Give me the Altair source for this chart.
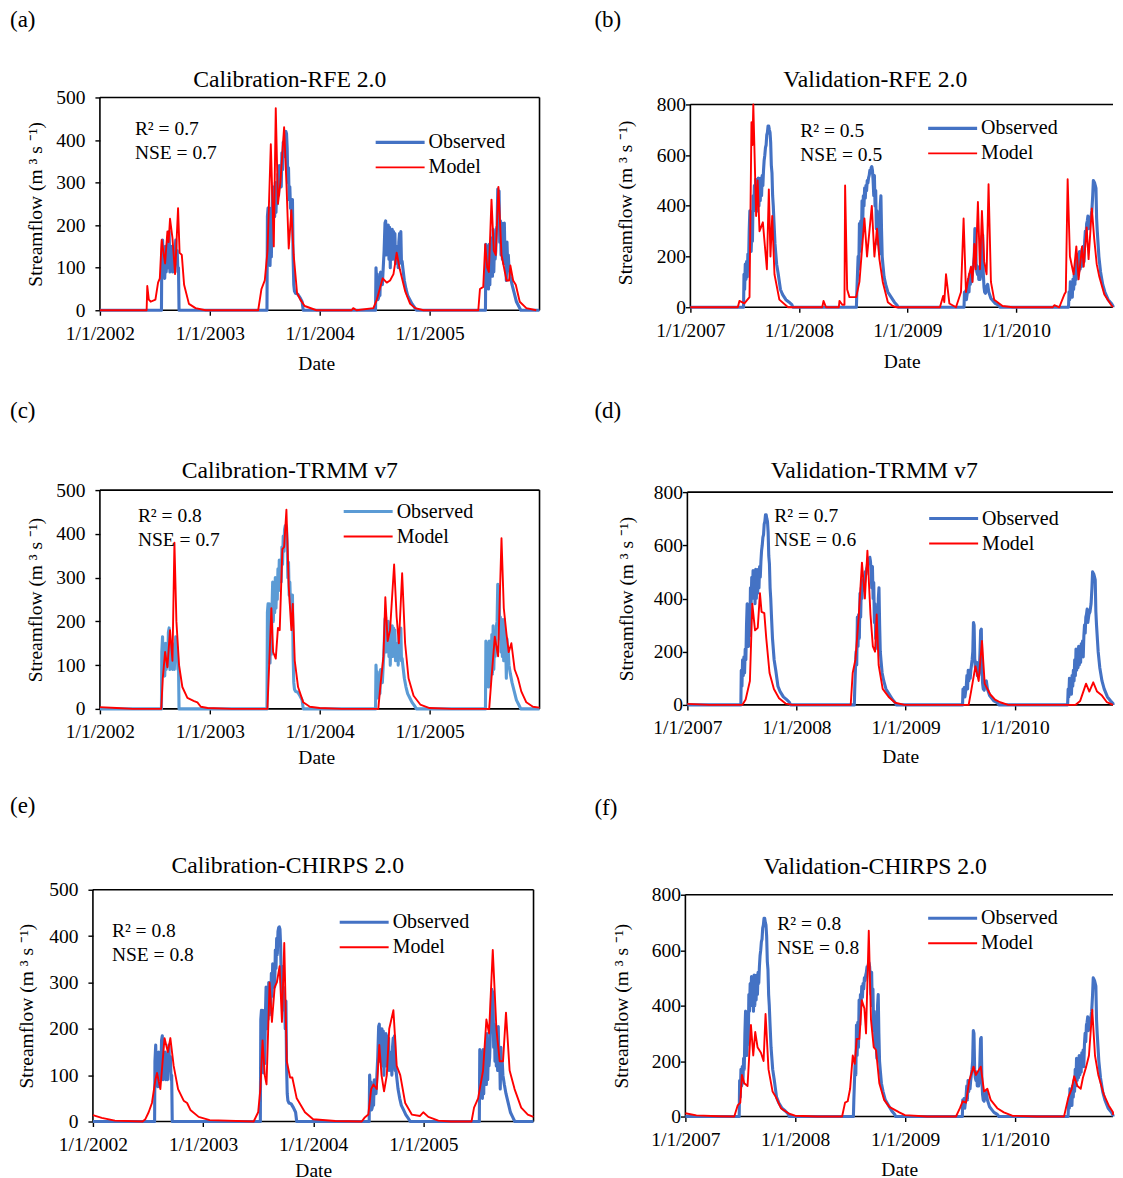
import altair as alt
import pandas as pd

FONT = "Liberation Serif"
BLUE = "#4472C4"
LIGHT = "#5B9BD5"
RED = "#FF0000"

# (fraction of the year, streamflow)
OBS_CAL_2002 = [(0, 0), (.560, 0), (.563, 130), (.570, 165), (.577, 80), (.583, 130), (.590, 75), (.597, 150), (.603, 90), (.610, 120), (.617, 100), (.623, 175), (.630, 185), (.637, 90), (.643, 140), (.650, 100), (.657, 150), (.663, 90), (.670, 130), (.677, 90), (.683, 135), (.690, 165), (.697, 110), (.703, 140), (.710, 90), (.715, 100), (.720, 0)]
OBS_CAL_2003 = [(.520, 0), (.524, 220), (.530, 240), (.536, 130), (.542, 240), (.548, 105), (.554, 180), (.560, 125), (.566, 230), (.572, 290), (.578, 200), (.584, 285), (.590, 220), (.596, 300), (.602, 230), (.608, 280), (.614, 250), (.620, 320), (.626, 270), (.632, 340), (.638, 300), (.644, 330), (.650, 290), (.656, 370), (.662, 330), (.668, 395), (.674, 360), (.680, 410), (.686, 418), (.692, 420), (.698, 415), (.704, 380), (.710, 300), (.716, 335), (.722, 260), (.728, 290), (.734, 240), (.740, 260), (.746, 200), (.752, 260), (.758, 120), (.764, 60), (.770, 45), (.780, 40), (.800, 38), (.820, 30), (.840, 20), (.850, 0)]
OBS_CAL_2004 = [(.508, 0), (.512, 100), (.518, 70), (.524, 85), (.530, 25), (.536, 30), (.542, 45), (.548, 35), (.554, 90), (.560, 60), (.570, 60), (.578, 100), (.586, 140), (.594, 205), (.600, 210), (.606, 130), (.612, 200), (.618, 145), (.624, 200), (.630, 120), (.636, 195), (.642, 100), (.648, 180), (.654, 130), (.660, 190), (.666, 120), (.672, 185), (.678, 140), (.684, 180), (.690, 110), (.696, 150), (.702, 110), (.708, 140), (.714, 100), (.720, 160), (.726, 180), (.732, 130), (.738, 185), (.744, 110), (.750, 115), (.756, 100), (.770, 70), (.785, 50), (.800, 35), (.820, 25), (.840, 15), (.860, 8), (.880, 0)]
OBS_CAL_2005 = [(.508, 0), (.512, 155), (.518, 120), (.524, 60), (.530, 150), (.536, 50), (.542, 155), (.548, 60), (.554, 150), (.560, 90), (.566, 170), (.572, 80), (.578, 190), (.584, 90), (.590, 150), (.596, 120), (.602, 140), (.608, 190), (.614, 200), (.620, 285), (.626, 270), (.632, 280), (.638, 160), (.644, 210), (.650, 130), (.656, 205), (.662, 120), (.668, 200), (.674, 110), (.680, 205), (.686, 120), (.692, 150), (.698, 70), (.704, 160), (.710, 110), (.716, 130), (.722, 100), (.735, 80), (.750, 60), (.770, 40), (.790, 20), (.810, 10), (.830, 0), (.999, 0)]

OBS_VAL_2007 = [(0, 0), (.490, 0), (.494, 130), (.500, 70), (.506, 170), (.512, 110), (.518, 180), (.524, 120), (.530, 210), (.536, 170), (.542, 300), (.548, 380), (.554, 370), (.560, 220), (.566, 300), (.572, 260), (.578, 440), (.584, 380), (.590, 480), (.596, 400), (.602, 505), (.608, 420), (.614, 500), (.620, 380), (.626, 510), (.632, 400), (.638, 500), (.644, 420), (.650, 510), (.656, 440), (.662, 520), (.668, 480), (.674, 540), (.680, 580), (.686, 600), (.692, 630), (.698, 640), (.704, 680), (.710, 690), (.716, 715), (.722, 715), (.728, 700), (.734, 690), (.740, 650), (.746, 560), (.752, 530), (.758, 440), (.764, 400), (.770, 340), (.780, 250), (.795, 170), (.810, 130), (.830, 70), (.850, 50), (.880, 30), (.910, 20), (.935, 10), (.945, 0)]
OBS_VAL_2008 = [(.530, 0), (.534, 60), (.540, 130), (.546, 200), (.552, 150), (.558, 330), (.564, 220), (.570, 340), (.576, 250), (.582, 420), (.588, 330), (.594, 440), (.600, 400), (.606, 470), (.612, 430), (.618, 480), (.624, 460), (.630, 500), (.636, 490), (.642, 510), (.648, 520), (.654, 540), (.660, 530), (.666, 550), (.672, 555), (.678, 540), (.684, 500), (.690, 440), (.696, 520), (.702, 400), (.708, 460), (.714, 310), (.720, 380), (.726, 250), (.732, 300), (.738, 260), (.744, 210), (.750, 400), (.756, 440), (.762, 300), (.768, 200), (.774, 170), (.785, 120), (.800, 90), (.820, 60), (.850, 40), (.880, 20), (.905, 8), (.915, 0)]
OBS_VAL_2009 = [(.522, 0), (.526, 60), (.532, 30), (.538, 65), (.544, 30), (.550, 50), (.556, 70), (.562, 110), (.568, 60), (.574, 130), (.580, 90), (.586, 130), (.592, 100), (.598, 130), (.604, 150), (.610, 170), (.616, 200), (.622, 310), (.628, 300), (.634, 170), (.640, 140), (.646, 130), (.652, 160), (.658, 110), (.664, 130), (.670, 110), (.676, 130), (.682, 200), (.688, 280), (.694, 285), (.700, 130), (.706, 80), (.712, 60), (.720, 55), (.730, 80), (.740, 90), (.750, 60), (.770, 35), (.790, 25), (.810, 15), (.840, 8), (.855, 0)]
OBS_VAL_2010 = [(.485, 0), (.490, 60), (.496, 30), (.502, 100), (.508, 50), (.514, 60), (.520, 40), (.526, 110), (.532, 70), (.538, 130), (.544, 90), (.550, 170), (.556, 110), (.562, 210), (.568, 130), (.574, 200), (.580, 140), (.586, 220), (.592, 150), (.598, 215), (.604, 160), (.610, 230), (.616, 190), (.622, 240), (.628, 180), (.634, 260), (.640, 300), (.646, 270), (.652, 330), (.658, 340), (.664, 360), (.670, 310), (.680, 340), (.690, 350), (.700, 380), (.708, 440), (.714, 500), (.720, 495), (.726, 490), (.732, 480), (.738, 470), (.744, 350), (.750, 300), (.765, 200), (.780, 140), (.800, 90), (.820, 60), (.850, 30), (.880, 15), (.905, 5), (.915, 0), (.999, 0)]

RFE_CAL_2002 = [(0, 0), (.425, 0), (.431, 57), (.445, 25), (.462, 20), (.505, 25), (.529, 65), (.545, 75), (.562, 165), (.593, 110), (.614, 185), (.625, 160), (.638, 215), (.660, 170), (.684, 85), (.711, 240), (.725, 135), (.745, 130), (.766, 60), (.810, 15), (.870, 5), (.960, 0)]
RFE_CAL_2003 = [(.44, 0), (.47, 50), (.50, 70), (.525, 140), (.555, 390), (.582, 150), (.60, 475), (.62, 250), (.642, 300), (.667, 395), (.676, 430), (.697, 300), (.718, 145), (.742, 235), (.763, 130), (.794, 40), (.824, 25), (.863, 10), (.97, 0)]
RFE_CAL_2004 = [(.29, 0), (.305, 5), (.335, 0), (.488, 5), (.52, 25), (.573, 75), (.61, 65), (.64, 70), (.671, 85), (.686, 110), (.70, 135), (.73, 95), (.777, 45), (.823, 15), (.869, 5), (.945, 0)]
RFE_CAL_2005 = [(.443, 0), (.458, 50), (.488, 55), (.506, 155), (.524, 100), (.539, 90), (.563, 260), (.584, 140), (.602, 130), (.626, 290), (.654, 130), (.70, 70), (.723, 70), (.735, 105), (.76, 70), (.784, 60), (.82, 20), (.88, 5), (.97, 0)]

RFE_VAL_2007 = [(0, 0), (.437, 0), (.452, 25), (.498, 15), (.545, 40), (.563, 730), (.572, 640), (.58, 800), (.606, 360), (.62, 500), (.637, 300), (.668, 335), (.705, 150), (.723, 465), (.738, 200), (.754, 360), (.775, 130), (.82, 30), (.90, 0)]
RFE_VAL_2008 = [(.215, 0), (.227, 25), (.25, 0), (.368, 0), (.374, 25), (.40, 10), (.42, 10), (.426, 480), (.445, 70), (.466, 40), (.528, 40), (.558, 100), (.604, 350), (.628, 200), (.672, 400), (.696, 200), (.72, 310), (.742, 190), (.773, 100), (.82, 20), (.865, 5), (.90, 0)]
RFE_VAL_2009 = [(.30, 0), (.33, 45), (.34, 20), (.356, 130), (.387, 15), (.448, 0), (.494, 60), (.518, 350), (.54, 60), (.564, 120), (.586, 160), (.60, 100), (.617, 250), (.629, 150), (.65, 415), (.669, 150), (.687, 380), (.708, 180), (.73, 130), (.748, 485), (.77, 100), (.80, 30), (.877, 5), (.97, 0)]
RFE_VAL_2010 = [(.34, 0), (.354, 8), (.40, 0), (.446, 50), (.46, 60), (.477, 505), (.498, 200), (.532, 130), (.557, 240), (.578, 110), (.61, 240), (.625, 160), (.652, 315), (.67, 190), (.70, 390), (.722, 270), (.745, 170), (.769, 120), (.815, 50), (.877, 10), (.95, 0), (.999, 0)]

TRMM_CAL_2002 = [(0, 4), (.15, 2), (.30, 0), (.558, 0), (.572, 70), (.593, 130), (.614, 95), (.638, 180), (.66, 110), (.678, 380), (.696, 200), (.72, 100), (.75, 50), (.796, 25), (.857, 18), (.887, 15), (.918, 5), (.98, 2)]
TRMM_CAL_2003 = [(.20, 0), (.524, 0), (.54, 100), (.56, 230), (.576, 130), (.60, 115), (.62, 185), (.636, 180), (.66, 365), (.676, 370), (.697, 455), (.718, 280), (.742, 180), (.755, 240), (.773, 110), (.803, 50), (.85, 15), (.91, 5), (.999, 2)]
TRMM_CAL_2004 = [(.20, 0), (.533, 0), (.555, 60), (.58, 120), (.597, 255), (.618, 155), (.64, 180), (.677, 330), (.70, 210), (.72, 150), (.75, 310), (.777, 150), (.808, 70), (.854, 30), (.915, 10), (.999, 2)]
TRMM_CAL_2005 = [(.20, 0), (.542, 0), (.563, 70), (.593, 165), (.623, 120), (.654, 390), (.675, 230), (.70, 170), (.72, 130), (.744, 150), (.774, 90), (.804, 70), (.834, 40), (.88, 15), (.94, 5), (.999, 3)]

TRMM_VAL_2007 = [(0, 4), (.2, 0), (.503, 0), (.534, 20), (.573, 90), (.595, 380), (.62, 280), (.645, 290), (.665, 420), (.68, 350), (.705, 345), (.723, 250), (.753, 120), (.793, 60), (.84, 25), (.90, 5), (.96, 0)]
TRMM_VAL_2008 = [(.497, 0), (.515, 120), (.54, 170), (.57, 330), (.60, 535), (.627, 400), (.65, 580), (.678, 340), (.70, 220), (.72, 200), (.735, 340), (.753, 150), (.79, 60), (.845, 30), (.905, 8), (.99, 0)]
TRMM_VAL_2009 = [(.578, 0), (.60, 50), (.64, 145), (.67, 90), (.70, 240), (.725, 80), (.775, 40), (.82, 20), (.866, 10), (.94, 0)]
TRMM_VAL_2010 = [(.556, 0), (.60, 15), (.654, 80), (.684, 50), (.72, 85), (.755, 50), (.80, 35), (.845, 10), (.92, 0), (.999, 0)]

CHIRPS_CAL_2002 = [(0, 14), (.08, 8), (.2, 2), (.45, 0), (.476, 5), (.506, 20), (.536, 40), (.567, 90), (.582, 105), (.612, 70), (.65, 180), (.68, 150), (.703, 180), (.733, 120), (.773, 70), (.824, 45), (.855, 40), (.885, 25), (.96, 10)]
CHIRPS_CAL_2003 = [(.06, 3), (.459, 0), (.50, 20), (.52, 70), (.54, 175), (.56, 100), (.576, 80), (.604, 300), (.625, 215), (.65, 290), (.67, 300), (.695, 335), (.716, 215), (.737, 385), (.76, 130), (.79, 95), (.81, 95), (.85, 50), (.925, 20), (.999, 5)]
CHIRPS_CAL_2004 = [(.2, 1), (.44, 0), (.465, 8), (.50, 15), (.526, 70), (.547, 80), (.577, 70), (.60, 165), (.62, 100), (.643, 65), (.668, 100), (.69, 200), (.728, 240), (.758, 120), (.79, 100), (.835, 40), (.895, 15), (.97, 12), (.999, 20)]
CHIRPS_CAL_2005 = [(.045, 10), (.136, 2), (.25, 0), (.437, 0), (.46, 30), (.497, 50), (.527, 90), (.542, 110), (.572, 220), (.596, 190), (.63, 370), (.663, 200), (.693, 130), (.723, 130), (.75, 235), (.783, 110), (.828, 70), (.888, 30), (.948, 15), (.999, 10)]

CHIRPS_VAL_2007 = [(0, 12), (.1, 4), (.3, 1), (.445, 0), (.476, 40), (.50, 50), (.515, 150), (.536, 120), (.566, 110), (.597, 330), (.618, 220), (.636, 305), (.657, 250), (.688, 230), (.712, 200), (.73, 370), (.757, 170), (.794, 90), (.824, 70), (.87, 30), (.945, 10), (.999, 3)]
CHIRPS_VAL_2008 = [(.2, 0), (.427, 0), (.454, 50), (.478, 55), (.50, 100), (.524, 220), (.542, 190), (.56, 280), (.585, 280), (.606, 420), (.63, 390), (.645, 300), (.67, 670), (.69, 350), (.715, 250), (.736, 240), (.766, 120), (.81, 60), (.857, 35), (.948, 15), (.999, 5)]
CHIRPS_VAL_2009 = [(.2, 0), (.464, 0), (.50, 30), (.525, 55), (.555, 50), (.585, 130), (.624, 180), (.645, 150), (.69, 180), (.72, 90), (.75, 100), (.78, 60), (.84, 30), (.90, 15), (.976, 3)]
CHIRPS_VAL_2010 = [(.2, 0), (.448, 0), (.488, 70), (.518, 100), (.54, 145), (.57, 110), (.60, 100), (.62, 140), (.65, 180), (.675, 220), (.705, 385), (.73, 220), (.76, 150), (.81, 80), (.855, 40), (.915, 15), (.97, 8), (.999, 10)]

OBS_CAL = [OBS_CAL_2002, OBS_CAL_2003, OBS_CAL_2004, OBS_CAL_2005]
OBS_VAL = [OBS_VAL_2007, OBS_VAL_2008, OBS_VAL_2009, OBS_VAL_2010]

# span < 4: the reference is cropped just before the last year ends in the right-hand panels.
# padx / pady: blank strip of the view left of / above the frame (the grid aligns
# view origins in its first column and first row, the panels' frames are not aligned).
PANELS = [
    dict(tag="(a)", title="Calibration-RFE 2.0", start=2002, span=4, ymax=500, w=440, h=213, padx=7, pady=0, obs=OBS_CAL, col=BLUE,
         model=[RFE_CAL_2002, RFE_CAL_2003, RFE_CAL_2004, RFE_CAL_2005], r2="R² = 0.7", nse="NSE = 0.7",
         tagx=-83, tagy=-78, tcx=197, tcy=-17.5, tx=42, ty=32, lx=281, ly=32.5, lp=10, tp=10, xtp=12),
    dict(tag="(b)", title="Validation-RFE 2.0", start=2007, span=3.895, ymax=800, w=423, h=203, padx=0, pady=7, obs=OBS_VAL, col=BLUE,
         model=[RFE_VAL_2007, RFE_VAL_2008, RFE_VAL_2009, RFE_VAL_2010], r2="R² = 0.5", nse="NSE = 0.5",
         tagx=-96, tagy=-78, tcx=185, tcy=-17.5, tx=110, ty=34, lx=236, ly=18.5, lp=0, tp=21, xtp=12.5),
    dict(tag="(c)", title="Calibration-TRMM v7", start=2002, span=4, ymax=500, w=440, h=219, padx=7, pady=0, obs=OBS_CAL, col=LIGHT,
         model=[TRMM_CAL_2002, TRMM_CAL_2003, TRMM_CAL_2004, TRMM_CAL_2005], r2="R² = 0.8", nse="NSE = 0.7",
         tagx=-83, tagy=-79, tcx=197, tcy=-19, tx=45, ty=26, lx=249, ly=9, lp=10, tp=10, xtp=7.5),
    dict(tag="(d)", title="Validation-TRMM v7", start=2007, span=3.901, ymax=800, w=426, h=213, padx=0, pady=0, obs=OBS_VAL, col=BLUE,
         model=[TRMM_VAL_2007, TRMM_VAL_2008, TRMM_VAL_2009, TRMM_VAL_2010], r2="R² = 0.7", nse="NSE = 0.6",
         tagx=-93, tagy=-81, tcx=187, tcy=-21, tx=87, ty=23.5, lx=240, ly=14, lp=0, tp=17, xtp=10),
    dict(tag="(e)", title="Calibration-CHIRPS 2.0", start=2002, span=4, ymax=500, w=441, h=232, padx=0, pady=0, obs=OBS_CAL, col=BLUE,
         model=[CHIRPS_CAL_2002, CHIRPS_CAL_2003, CHIRPS_CAL_2004, CHIRPS_CAL_2005], r2="R² = 0.8", nse="NSE = 0.8",
         tagx=-83, tagy=-84, tcx=195, tcy=-24, tx=19, ty=41.5, lx=245, ly=20, lp=10, tp=12, xtp=7.5),
    dict(tag="(f)", title="Validation-CHIRPS 2.0", start=2007, span=3.894, ymax=800, w=428, h=222, padx=0, pady=0, obs=OBS_VAL, col=BLUE,
         model=[CHIRPS_VAL_2007, CHIRPS_VAL_2008, CHIRPS_VAL_2009, CHIRPS_VAL_2010], r2="R² = 0.8", nse="NSE = 0.8",
         tagx=-91, tagy=-87, tcx=190, tcy=-28, tx=92, ty=29, lx=241, ly=11, lp=0, tp=20, xtp=11.5),
]


def frame(seasons, start, span, name):
    rows = []
    for i, season in enumerate(seasons):
        rows.extend({"t": min(start + i + f, start + span), "q": v, "series": name} for f, v in season)
    return pd.DataFrame(rows)


def panel(p):
    start, end, ymax = p["start"], p["start"] + p["span"], p["ymax"]
    years = list(range(start, start + 4))
    xscale = alt.Scale(domain=[start - p["padx"] * p["span"] / p["w"], end], nice=False, zero=False)
    yscale = alt.Scale(domain=[0, ymax * (p["h"] + p["pady"]) / p["h"]], nice=False)
    xaxis = alt.Axis(values=years, labelExpr="'1/1/' + datum.value", title="Date", grid=False, domain=False,
                     tickSize=5, labelPadding=9, titlePadding=p["xtp"], labelOverlap=False, labelFlush=False)
    yaxis = alt.Axis(values=list(range(0, ymax + 1, 100 if ymax == 500 else 200)), domain=False,
                     title="Streamflow (m ³ s ⁻¹)", grid=False, tickSize=5, labelPadding=p["lp"],
                     titlePadding=p["tp"], offset=-p["padx"])
    colors = alt.Scale(domain=["Observed", "Model"], range=[p["col"], RED])
    widths = alt.Scale(domain=["Observed", "Model"], range=[3.1, 1.9])
    legend = alt.Legend(title=None, orient="none", legendX=p["lx"], legendY=p["ly"], symbolType="stroke",
                        symbolSize=2400, labelOffset=2, labelFontSize=20, labelFont=FONT, labelColor="black",
                        clipHeight=25, rowPadding=0, padding=0)

    def line(df):
        return alt.Chart(df).mark_line(clip=False, strokeJoin="round").encode(
            x=alt.X("t:Q", scale=xscale, axis=xaxis),
            y=alt.Y("q:Q", scale=yscale, axis=yaxis),
            color=alt.Color("series:N", scale=colors, legend=legend),
            strokeWidth=alt.StrokeWidth("series:N", scale=widths, legend=legend),
        )

    def note(text, x, y, size=19.5, align="left"):
        return alt.Chart(alt.Data(values=[{"s": text}])).mark_text(
            align=align, baseline="middle", font=FONT, fontSize=size, color="black"
        ).encode(x=alt.value(x), y=alt.value(y), text="s:N")

    edges = [
        {"t": start, "t2": end, "q": 0, "q2": 0},
        {"t": start, "t2": start, "q": 0, "q2": ymax},
        {"t": start, "t2": end, "q": ymax, "q2": ymax},
    ]
    if p["span"] == 4:
        edges.append({"t": end, "t2": end, "q": 0, "q2": ymax})
    box = alt.Chart(alt.Data(values=edges)).mark_rule(color="black", strokeWidth=1.6).encode(
        x=alt.X("t:Q", scale=xscale, axis=xaxis), x2="t2:Q",
        y=alt.Y("q:Q", scale=yscale, axis=yaxis), y2="q2:Q",
    )
    return alt.layer(
        box,
        line(frame(p["obs"], start, p["span"], "Observed")),
        line(frame(p["model"], start, p["span"], "Model")),
        note(p["r2"], p["tx"], p["ty"]),
        note(p["nse"], p["tx"], p["ty"] + 24),
        note(p["tag"], p["tagx"], p["tagy"], 23),
        note(p["title"], p["tcx"], p["tcy"], 23.7, "center"),
    ).properties(width=p["w"] + p["padx"], height=p["h"] + p["pady"])


chart = alt.concat(*[panel(p) for p in PANELS], columns=2, align="none", spacing={"row": 27, "column": 53}).resolve_scale(
    color="independent", strokeWidth="independent"
).resolve_legend(color="independent", strokeWidth="independent").properties(
    padding={"left": 2, "top": 0, "right": 0, "bottom": 0}
).configure_view(stroke=None).configure_axis(
    labelFont=FONT, titleFont=FONT, labelFontSize=19.5, titleFontSize=19.5, titleFontWeight="normal",
    labelColor="black", titleColor="black", tickColor="black", tickWidth=1.4,
)
chart.save("out.html", embed_options={"renderer": "svg", "actions": False})
